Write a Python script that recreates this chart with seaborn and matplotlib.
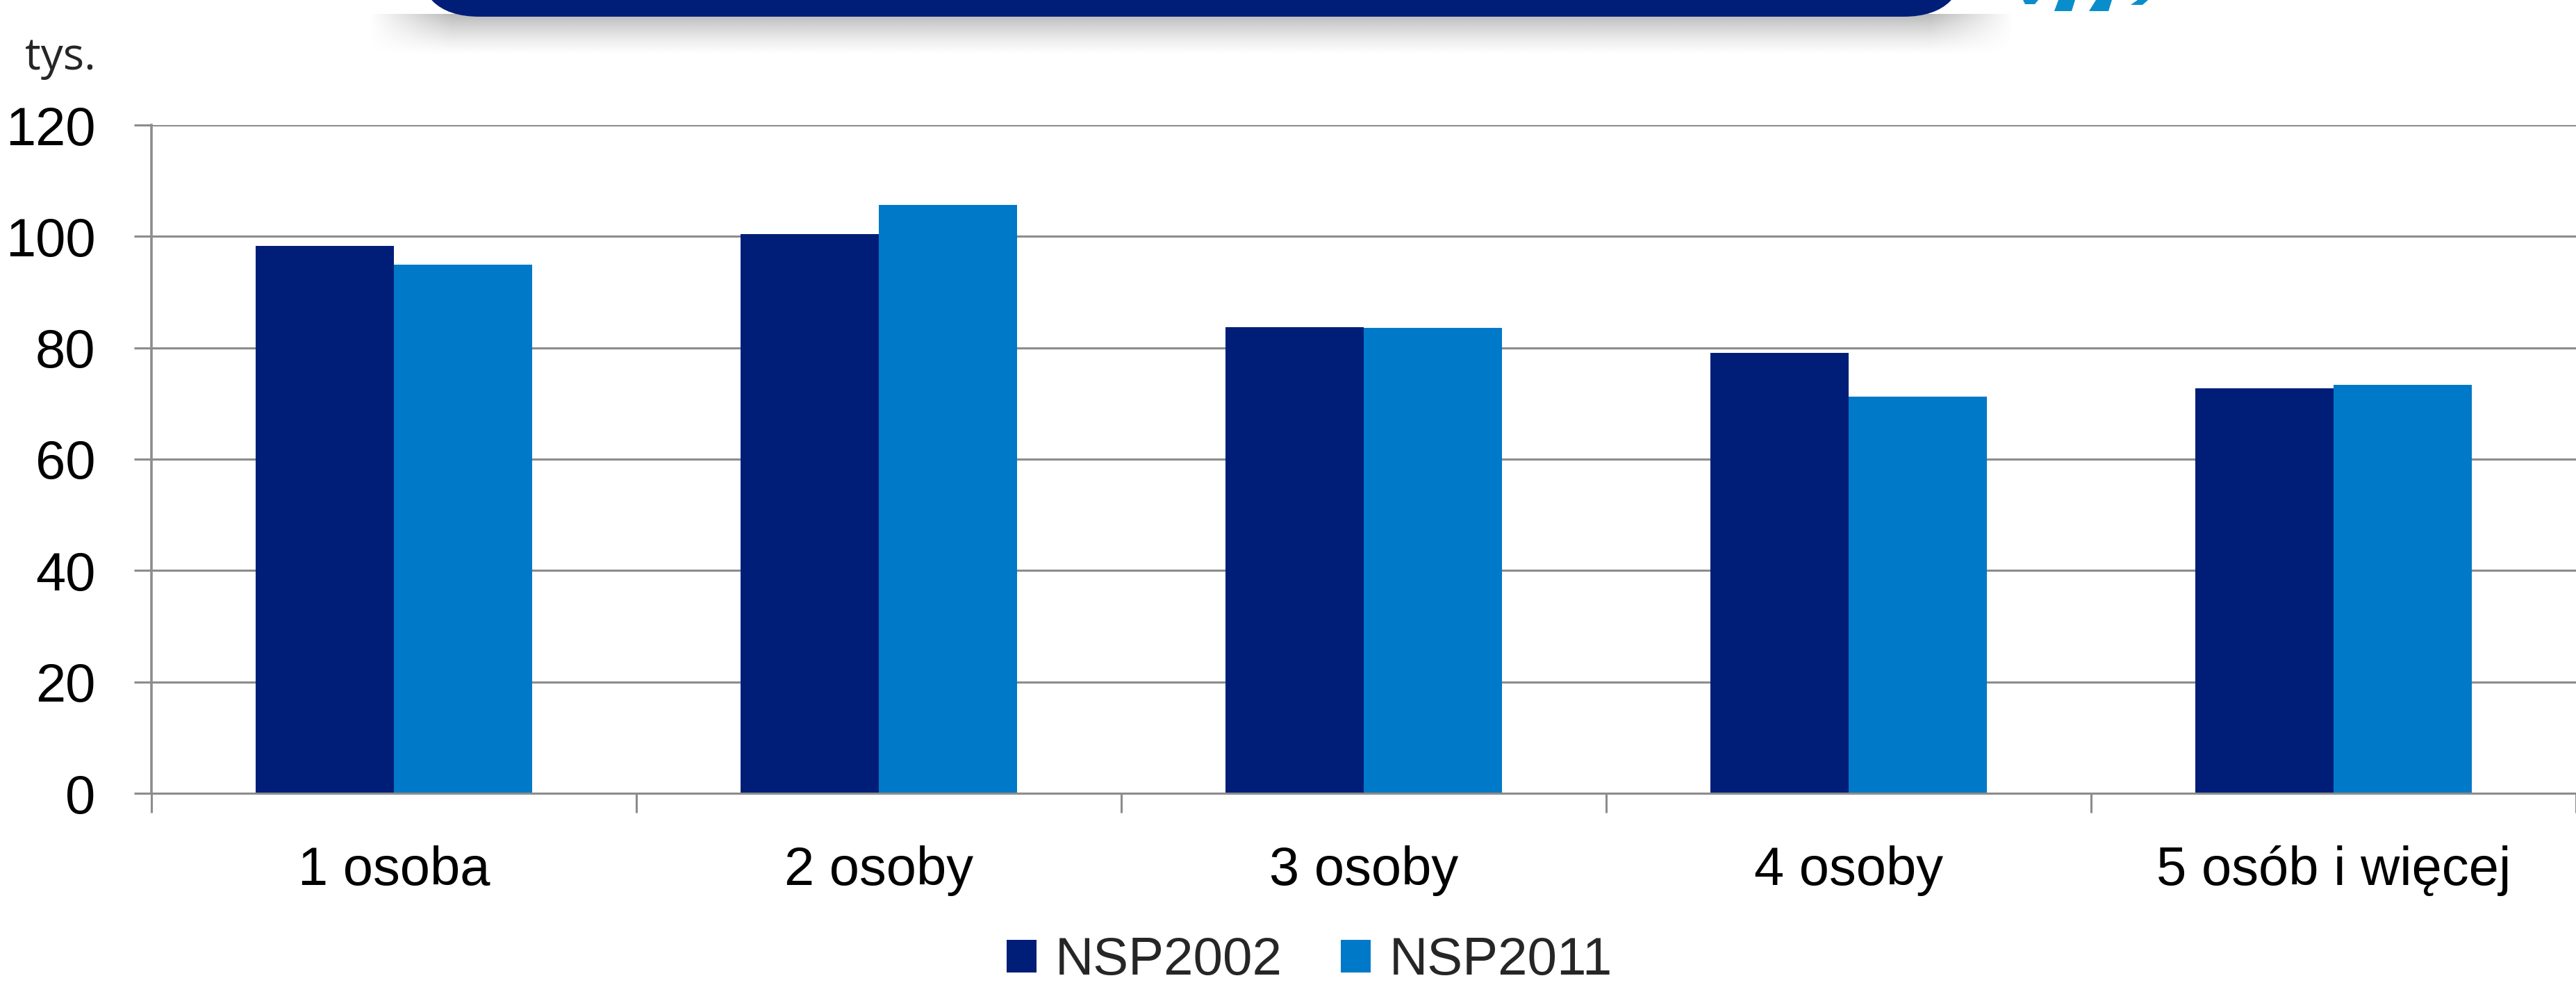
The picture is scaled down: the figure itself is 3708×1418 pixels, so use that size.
import numpy as np
import pandas as pd
import matplotlib
matplotlib.use("Agg")
import matplotlib.pyplot as plt
from matplotlib import font_manager
from matplotlib.patches import Patch, FancyBboxPatch, Polygon
import seaborn as sns

categories = ["1 osoba", "2 osoby", "3 osoby", "4 osoby", "5 osób i więcej"]
series_names = ["NSP2002", "NSP2011"]
nsp2002 = [98.3, 100.4, 83.7, 79.1, 72.7]
nsp2011 = [94.9, 105.6, 83.6, 71.2, 73.3]
y_ticks = [0, 20, 40, 60, 80, 100, 120]
unit_label = "tys."

colors = ["#001E78", "#0079C8"]

df = pd.DataFrame({
    "kategoria": categories * 2,
    "seria": [series_names[0]] * len(categories) + [series_names[1]] * len(categories),
    "wartosc": nsp2002 + nsp2011,
})

sns.set_theme(style="white")
names = {f.name for f in font_manager.fontManager.ttflist}
main_font = "Liberation Sans Narrow" if "Liberation Sans Narrow" in names else "Liberation Sans"
plt.rcParams["font.family"] = [main_font, "DejaVu Sans"]

W, H = 3708, 1418
fig = plt.figure(figsize=(W / 100, H / 100), dpi=100)
fig.patch.set_facecolor("white")

ax = fig.add_axes([218 / W, 1 - 1142 / H, 1 - 218 / W, (1142 - 180) / H])
sns.barplot(data=df, x="kategoria", y="wartosc", hue="seria", order=categories,
            hue_order=series_names, palette=colors, width=0.571, saturation=1,
            linewidth=0, ax=ax, legend=False, zorder=3)

grid_c = "#8C8C8C"
ax.set_ylim(0, 120)
ax.set_xlim(-0.5, 4.5)
ax.set_yticks(y_ticks)
ax.set_yticklabels([str(t) for t in y_ticks])
ax.yaxis.grid(True, color=grid_c, linewidth=2.2, zorder=0)
ax.set_axisbelow(True)
ax.set_xlabel("")
ax.set_ylabel("")
for s in ["top", "right"]:
    ax.spines[s].set_visible(False)
ax.spines["left"].set_color(grid_c)
ax.spines["left"].set_linewidth(2.6)
ax.spines["bottom"].set_color(grid_c)
ax.spines["bottom"].set_linewidth(2.2)
ax.spines["left"].set_zorder(4)
ax.spines["bottom"].set_zorder(4)

ax.tick_params(axis="y", which="major", length=18, width=2.2, color=grid_c,
               pad=40, labelsize=56, labelcolor="black", left=True)
ax.set_xticks(range(len(categories)))
ax.set_xticklabels(categories)
ax.tick_params(axis="x", which="major", length=0, pad=54, labelsize=56, labelcolor="black")
ax.set_xticks([i - 0.5 for i in range(len(categories) + 1)], minor=True)
ax.tick_params(axis="x", which="minor", length=20, width=2.2, color=grid_c, bottom=True)

fig.text(36 / W, 1 - 100 / H, unit_label, fontsize=46, ha="left", va="baseline",
         family=["Open Sans", "DejaVu Sans"])

handles = [Patch(facecolor=c, edgecolor="none") for c in colors]
fig.legend(handles, series_names, loc="center", bbox_to_anchor=(1885 / W, 1 - 1384 / H),
           ncol=2, frameon=False, fontsize=55, handlelength=0.56, handleheight=0.57,
           handletextpad=0.35, columnspacing=1.1, borderpad=0, borderaxespad=0)

# top decoration (cropped banner)
dec = fig.add_axes([0, 1 - 100 / H, 1, 100 / H], zorder=-1)
dec.set_xlim(0, W)
dec.set_ylim(100, 0)
dec.axis("off")
yy = np.linspace(0, 1, 60)[:, None]
xx = np.linspace(0, 1, 400)[None, :]
edge = np.clip(np.minimum(xx, 1 - xx) / 0.05, 0, 1)
alpha = (1 - yy) ** 1.3 * 0.45 * edge
img = np.zeros((60, 400, 4))
img[..., :3] = 0.4
img[..., 3] = alpha
dec.imshow(img, extent=(530, 2900, 80, 20), aspect="auto", zorder=1, interpolation="bilinear")
dec.add_patch(FancyBboxPatch((600, -200), 2230, 224,
                             boxstyle="round,pad=0,rounding_size=90",
                             facecolor="#001E78", edgecolor="none", zorder=2))
stripe_c = "#0A8DCB"
for pts in [[(2912, 0), (2934, 0), (2929, 6), (2915, 6)],
            [(2963, 0), (2987, 0), (2982, 16), (2957, 16)],
            [(3017, 0), (3040, 0), (3035, 16), (3007, 16)],
            [(3077, 0), (3092, 0), (3084, 7), (3067, 7)]]:
    dec.add_patch(Polygon(pts, closed=True, facecolor=stripe_c, edgecolor="none", zorder=2))

fig.savefig("out.png", dpi=100, facecolor="white")
